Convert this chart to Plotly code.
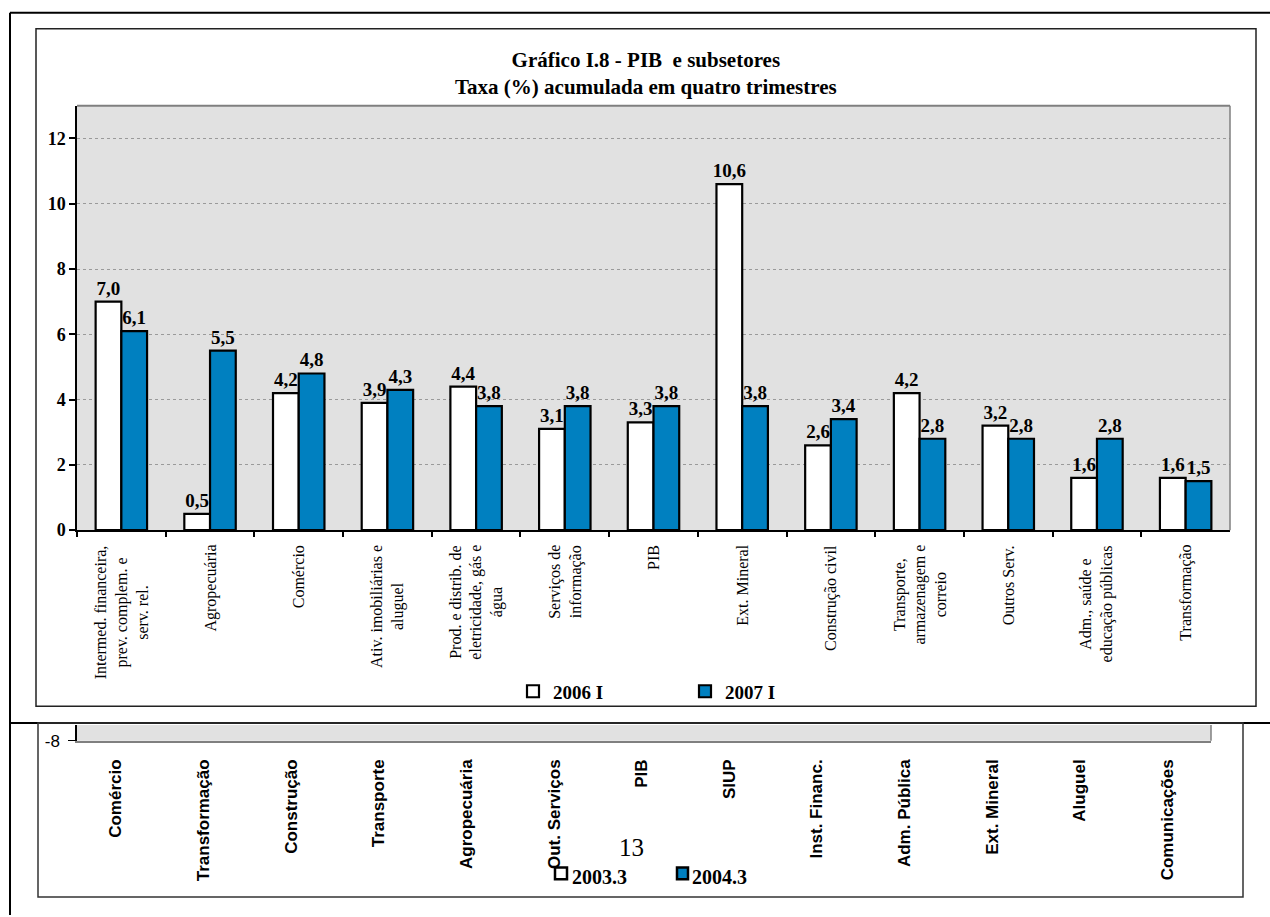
import plotly.graph_objects as go

# ---------------- data ----------------
categories = [
    "Intermed. financeira,<br>prev. complem. e<br>serv. rel.",
    "Agropecuária",
    "Comércio",
    "Ativ. imobiliárias e<br>aluguel",
    "Prod. e distrib. de<br>eletricidade, gás e<br>água",
    "Serviços de<br>informação",
    "PIB",
    "Ext. Mineral",
    "Construção civil",
    "Transporte,<br>armazenagem e<br>correio",
    "Outros Serv.",
    "Adm., saúde e<br>educação públicas",
    "Transformação",
]
series_names = ["2006 I", "2007 I"]
values_2006 = [7.0, 0.5, 4.2, 3.9, 4.4, 3.1, 3.3, 10.6, 2.6, 4.2, 3.2, 1.6, 1.6]
values_2007 = [6.1, 5.5, 4.8, 4.3, 3.8, 3.8, 3.8, 3.8, 3.4, 2.8, 2.8, 2.8, 1.5]
y_ticks = [0, 2, 4, 6, 8, 10, 12]
title_lines = ["Gráfico I.8 - PIB&nbsp; e subsetores", "Taxa (%) acumulada em quatro trimestres"]

frag_categories = ["Comércio", "Transformação", "Construção", "Transporte", "Agropecuária",
                   "Out. Serviços", "PIB", "SIUP", "Inst. Financ.", "Adm. Pública",
                   "Ext. Mineral", "Aluguel", "Comunicações"]
frag_y_ticks = [-8]
frag_series = ["2003.3", "2004.3"]
page_number = "13"

# ---------------- geometry helpers (page pixels -> paper) ----------------
W, H = 1270, 917
def px(x):
    return x / W
def py(y):
    return 1 - y / H

SERIF = "Liberation Serif"
SANS = "Liberation Sans"
BLUE = "#0080c0"
BG = "#e1e1e1"

def fmt(v):
    return f"{v:.1f}".replace(".", ",")

fig = go.Figure()
fig.add_trace(go.Bar(
    x=categories, y=values_2006, name=series_names[0],
    marker=dict(color="white", line=dict(color="black", width=2.2)),
    text=[fmt(v) for v in values_2006], textposition="outside",
    textfont=dict(family=SERIF, size=19, color="black", weight="bold"),
    constraintext="none", cliponaxis=False,
))
fig.add_trace(go.Bar(
    x=categories, y=values_2007, name=series_names[1],
    marker=dict(color=BLUE, line=dict(color="black", width=2.2)),
    text=[fmt(v) for v in values_2007], textposition="outside",
    textfont=dict(family=SERIF, size=19, color="black", weight="bold"),
    constraintext="none", cliponaxis=False,
))
# lower (cut-off) chart fragment: only its axes are visible in the picture
fig.add_trace(go.Bar(
    x=list(range(len(frag_categories))), y=[None] * len(frag_categories),
    xaxis="x2", yaxis="y2", showlegend=False, hoverinfo="skip",
))

shapes = []
def line(x0, y0, x1, y1, color="black", width=2):
    shapes.append(dict(type="line", xref="paper", yref="paper",
                       x0=px(x0), y0=py(y0), x1=px(x1), y1=py(y1),
                       line=dict(color=color, width=width)))
def rect(x0, y0, x1, y1, color="black", width=1.5, fill="rgba(0,0,0,0)"):
    shapes.append(dict(type="rect", xref="paper", yref="paper",
                       x0=px(x0), y0=py(y0), x1=px(x1), y1=py(y1),
                       line=dict(color=color, width=width), fillcolor=fill))

# outer page frame
line(10, 13, 1275, 13, width=2)
line(10, 13, 10, 925, width=2)
line(10, 731, 1275, 731, width=2)
# inner chart frame
rect(36, 29, 1256, 714, color="#222", width=1.5)
# plot-area top/right gray border
line(77, 107, 1230, 107, color="#7f7f7f", width=2)
line(1230, 107, 1230, 536, color="#7f7f7f", width=1.5)
# fragment frame
rect(38, 731, 1243, 907, color="#333", width=1.5)
line(1211, 733, 1211, 749, color="#7f7f7f", width=1.5)
# fragment legend squares
rect(555, 877, 567, 889, color="black", width=2.5, fill="white")
rect(677, 877, 688, 889, color="black", width=2.5, fill=BLUE)

annotations = []
annotations.append(dict(
    text="<br>".join(title_lines), xref="paper", yref="paper",
    x=px(646), y=py(74), xanchor="center", yanchor="middle", showarrow=False,
    font=dict(family=SERIF, size=21, color="black", weight="bold"), align="center"))
for i, c in enumerate(categories):
    annotations.append(dict(
        text=c, xref="x", yref="paper", x=i, y=py(549), xanchor="center", yanchor="top",
        textangle=-90, align="center", showarrow=False,
        font=dict(family=SERIF, size=16, color="black")))
annotations.append(dict(
    text=page_number, xref="paper", yref="paper", x=px(631), y=py(857),
    xanchor="center", yanchor="middle", showarrow=False,
    font=dict(family=SERIF, size=25, color="black")))
for name, x0 in zip(frag_series, [570, 690]):
    annotations.append(dict(
        text=name, xref="paper", yref="paper", x=px(x0), y=py(887),
        xanchor="left", yanchor="middle", showarrow=False,
        font=dict(family=SERIF, size=20, color="black", weight="bold")))

fig.update_layout(
    width=W, height=H, margin=dict(l=0, r=0, t=0, b=0),
    paper_bgcolor="white", plot_bgcolor=BG,
    barmode="group", bargap=0.42, bargroupgap=0,
    showlegend=True,
    legend=dict(orientation="h", x=px(513), y=py(699), xanchor="left", yanchor="middle",
                font=dict(family=SERIF, size=19, color="black", weight="bold"),
                entrywidth=127, entrywidthmode="pixels", bgcolor="rgba(0,0,0,0)",
                traceorder="normal"),
    xaxis=dict(domain=[px(77), px(1230)], anchor="y", type="category",
               range=[-0.5, len(categories) - 0.5], tickson="boundaries",
               ticks="outside", ticklen=5, tickcolor="black", tickwidth=1.5,
               showticklabels=False, showline=True, linecolor="black", linewidth=1.5,
               showgrid=False, zeroline=False),
    yaxis=dict(domain=[py(536), py(107)], anchor="x", range=[0, 13],
               tickmode="array", tickvals=y_ticks, ticks="outside", ticklen=6,
               tickcolor="black", tickwidth=1.5, showline=True, linecolor="black",
               linewidth=1.5, showgrid=True, gridcolor="#9a9a9a", griddash="dot",
               gridwidth=1, zeroline=False,
               tickfont=dict(family=SERIF, size=18, color="black", weight="bold")),
    xaxis2=dict(domain=[px(77), px(1211)], anchor="y2", range=[-0.445, len(frag_categories) - 0.5],
                tickmode="array", tickvals=list(range(len(frag_categories))),
                ticktext=frag_categories, tickangle=-90, ticks="", ticklabelstandoff=10,
                tickfont=dict(family=SANS, size=17, color="black", weight="bold"),
                showline=True, linecolor="#808080", linewidth=1.5, showgrid=False, zeroline=False),
    yaxis2=dict(domain=[py(749), py(733)], anchor="x2", range=[-8, -7.5],
                tickmode="array", tickvals=frag_y_ticks, ticktext=[str(t) for t in frag_y_ticks],
                ticks="outside", ticklen=7, tickcolor="black", showline=True, linecolor="black",
                linewidth=1.5, showgrid=False, zeroline=False, ticklabelstandoff=5,
                tickfont=dict(family=SANS, size=17, color="black")),
    shapes=shapes, annotations=annotations,
)

page_css = ("document.documentElement.style.margin='0';"
            "document.documentElement.style.overflow='hidden';"
            "document.body.style.margin='0';"
            "document.body.style.overflow='hidden';")
fig.write_html("out.html", post_script=page_css, config={"displayModeBar": False})
